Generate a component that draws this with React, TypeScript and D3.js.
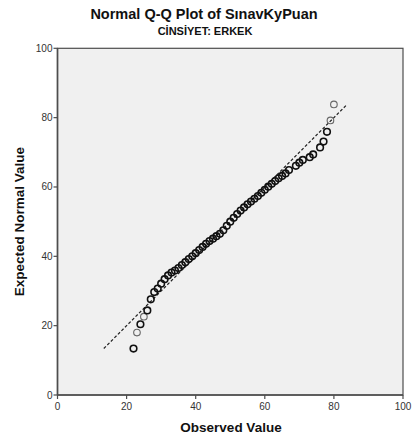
import React from "react";
import * as d3 from "d3";

const observed = [22, 23, 24, 25, 26, 27, 28, 29, 30, 31, 32, 33, 34, 35, 36, 37, 38, 39, 40, 41, 42, 43, 44, 45, 46, 47, 48, 49, 50, 51, 52, 53, 54, 55, 56, 57, 58, 59, 60, 61, 62, 63, 64, 65, 66, 67, 69, 70, 71, 73, 74, 76, 77, 78, 79, 80];
const expected = [13.4, 18.0, 20.4, 22.6, 24.4, 27.6, 29.7, 30.7, 32.1, 33.4, 34.5, 35.3, 35.9, 36.6, 37.5, 38.3, 39.2, 40.0, 40.9, 41.8, 42.7, 43.6, 44.4, 45.1, 45.8, 46.5, 47.5, 48.8, 50.0, 51.1, 52.2, 53.2, 54.1, 55.0, 55.8, 56.6, 57.4, 58.3, 59.2, 60.1, 60.9, 61.7, 62.5, 63.2, 63.9, 64.9, 66.1, 67.0, 67.8, 68.6, 69.4, 71.4, 73.1, 75.9, 79.2, 83.8];
const lightPoints = [23, 25, 79, 80];
const refLine = [13.4, 83.8];
const xTicks = [0, 20, 40, 60, 80, 100];
const yTicks = [0, 20, 40, 60, 80, 100];

const title = "Normal Q-Q Plot of SınavKyPuan";
const subtitle = "CİNSİYET: ERKEK";
const xLabel = "Observed Value";
const yLabel = "Expected Normal Value";

export default function App() {
  const W = 416, H = 445;
  const left = 57.5, right = 403, top = 48.3, bottom = 395;
  const x = d3.scaleLinear().domain([0, 100]).range([left, right]);
  const y = d3.scaleLinear().domain([0, 100]).range([bottom, top]);
  const font = "Arial, 'Liberation Sans', sans-serif";
  const axisColor = "#4d4d4d";
  const line = d3.line<number>().x((d) => x(d)).y((d) => y(d));

  return (
    <svg width={W} height={H} style={{ position: "absolute", left: 0, top: 0, background: "#fff" }} fontFamily={font}>
      <text x={204} y={19} textAnchor="middle" fontSize={14.5} fontWeight="bold" fill="#111">{title}</text>
      <text x={205} y={35} textAnchor="middle" fontSize={11} fontWeight="bold" fill="#111">{subtitle}</text>
      <rect x={left} y={top} width={right - left} height={bottom - top} fill="#f0f0f0" stroke={axisColor} strokeWidth={1.2} />
      <path d={line(refLine) || ""} stroke="#222" strokeWidth={1.2} strokeDasharray="3,2" fill="none" />
      {observed.map((o, i) => (
        <circle key={i} cx={x(o)} cy={y(expected[i])} r={3.3} fill="none"
          stroke={lightPoints.includes(o) ? "#666" : "#111"} strokeWidth={lightPoints.includes(o) ? 1.1 : 1.6} />
      ))}
      <line x1={left} x2={left} y1={top} y2={bottom} stroke={axisColor} strokeWidth={1.6} />
      <line x1={left} x2={right} y1={bottom} y2={bottom} stroke={axisColor} strokeWidth={1.6} />
      {yTicks.map((t) => (
        <g key={"y" + t}>
          <line x1={left - 4} x2={left} y1={y(t)} y2={y(t)} stroke={axisColor} strokeWidth={1.2} />
          <text x={left - 5} y={y(t) + 3.5} textAnchor="end" fontSize={10} fill="#333">{t}</text>
        </g>
      ))}
      {xTicks.map((t) => (
        <g key={"x" + t}>
          <line x1={x(t)} x2={x(t)} y1={bottom} y2={bottom + 4} stroke={axisColor} strokeWidth={1.2} />
          <text x={x(t)} y={bottom + 15} textAnchor="middle" fontSize={10} fill="#333">{t}</text>
        </g>
      ))}
      <text x={231} y={432} textAnchor="middle" fontSize={13.5} fontWeight="bold" fill="#111">{xLabel}</text>
      <text transform={`translate(24, ${(top + bottom) / 2}) rotate(-90)`} textAnchor="middle" fontSize={13.5} fontWeight="bold" fill="#111">{yLabel}</text>
    </svg>
  );
}
